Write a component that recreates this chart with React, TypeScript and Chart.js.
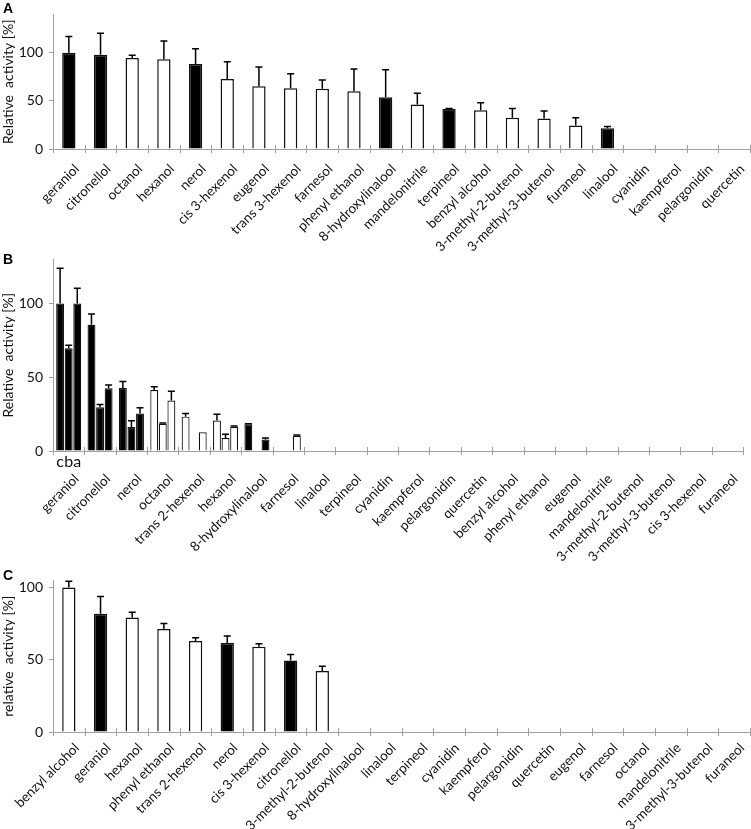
import React, { useEffect, useRef } from 'react';
import { Chart, registerables } from 'chart.js';

Chart.register(...registerables);

// ---------- Panel A ----------
const categoriesA = ['geraniol', 'citronellol', 'octanol', 'hexanol', 'nerol', 'cis 3-hexenol', 'eugenol', 'trans 3-hexenol', 'farnesol', 'phenyl ethanol', '8-hydroxylinalool', 'mandelonitrile', 'terpineol', 'benzyl alcohol', '3-methyl-2-butenol', '3-methyl-3-butenol', 'furaneol', 'linalool', 'cyanidin', 'kaempferol', 'pelargonidin', 'quercetin'];
const valuesA = [100, 98, 94.6, 93.4, 88.3, 72.8, 65.2, 63.3, 62.7, 60.1, 53.8, 46.2, 41.8, 40.2, 32.6, 31.6, 24.4, 21.5, 0, 0, 0, 0];
const errorsA = [17, 22.5, 3, 19, 16, 18, 20, 15, 9, 23, 28.5, 11.7, 0.4, 8, 9.5, 8, 8, 2, 0, 0, 0, 0];
const blackA = ['geraniol', 'citronellol', 'nerol', '8-hydroxylinalool', 'terpineol', 'linalool'];

// ---------- Panel B ----------
const categoriesB = ['geraniol', 'citronellol', 'nerol', 'octanol', 'trans 2-hexenol', 'hexanol', '8-hydroxylinalool', 'farnesol', 'linalool', 'terpineol', 'cyanidin', 'kaempferol', 'pelargonidin', 'quercetin', 'benzyl alcohol', 'phenyl ethanol', 'eugenol', 'mandelonitrile', '3-methyl-2-butenol', '3-methyl-3-butenol', 'cis 3-hexenol', 'furaneol'];
const valuesBc = [100, 85.6, 42.7, 41.4, 23.3, 20.7, 18.1, 0, 0, 0, 0, 0, 0, 0, 0, 0, 0, 0, 0, 0, 0, 0];
const errorsBc = [24, 7.3, 4.5, 2.2, 2.1, 4.3, 0.4, 0, 0, 0, 0, 0, 0, 0, 0, 0, 0, 0, 0, 0, 0, 0];
const valuesBb = [69.8, 29.7, 16.2, 18.5, 0, 8.8, 0, 0, 0, 0, 0, 0, 0, 0, 0, 0, 0, 0, 0, 0, 0, 0];
const errorsBb = [2, 1.8, 4.3, 0.5, 0, 2.6, 0, 0, 0, 0, 0, 0, 0, 0, 0, 0, 0, 0, 0, 0, 0, 0];
const valuesBa = [100, 42.5, 25.4, 34.3, 12.7, 16.4, 7.8, 10.3, 0, 0, 0, 0, 0, 0, 0, 0, 0, 0, 0, 0, 0, 0];
const errorsBa = [10.5, 2.3, 3.9, 6.2, 0, 0.6, 1, 0.6, 0, 0, 0, 0, 0, 0, 0, 0, 0, 0, 0, 0, 0, 0];
const blackB = ['geraniol', 'citronellol', 'nerol', '8-hydroxylinalool'];
const seriesLabelsB = ['c', 'b', 'a'];

// ---------- Panel C ----------
const categoriesC = ['benzyl alcohol', 'geraniol', 'hexanol', 'phenyl ethanol', 'trans 2-hexenol', 'nerol', 'cis 3-hexenol', 'citronellol', '3-methyl-2-butenol', '8-hydroxylinalool', 'linalool', 'terpineol', 'cyanidin', 'kaempferol', 'pelargonidin', 'quercetin', 'eugenol', 'farnesol', 'octanol', 'mandelonitrile', '3-methyl-3-butenol', 'furaneol'];
const valuesC = [100, 81.9, 79.3, 71.4, 63, 61.7, 59, 49.6, 42.3, 0, 0, 0, 0, 0, 0, 0, 0, 0, 0, 0, 0, 0];
const errorsC = [4.4, 11.9, 3.7, 3.7, 2.2, 4.8, 2.2, 4, 3.3, 0, 0, 0, 0, 0, 0, 0, 0, 0, 0, 0, 0, 0];
const blackC = ['geraniol', 'nerol', 'citronellol'];

const yTicks = [0, 50, 100];

const FONT = 'Lato, "Open Sans", sans-serif';
const GRAY = '#a0a0a0';
const TEXT = '#111';

const errorBarPlugin = {
  id: 'errorBars',
  afterDatasetsDraw(chart: any) {
    const ctx = chart.ctx;
    const y = chart.scales.y;
    chart.data.datasets.forEach((ds: any, di: number) => {
      const errs = ds.errorBars;
      if (!errs) return;
      const meta = chart.getDatasetMeta(di);
      meta.data.forEach((bar: any, i: number) => {
        const e = errs[i];
        const v = ds.data[i];
        if (!e) return;
        const top = y.getPixelForValue(v + e);
        const base = y.getPixelForValue(v);
        ctx.save();
        ctx.strokeStyle = '#000';
        ctx.lineWidth = 1.5;
        ctx.beginPath();
        ctx.moveTo(bar.x, base);
        ctx.lineTo(bar.x, top);
        ctx.moveTo(bar.x - 3.5, top);
        ctx.lineTo(bar.x + 3.5, top);
        ctx.stroke();
        ctx.restore();
      });
    });
  },
};

const crossTicksPlugin = {
  id: 'crossTicks',
  afterDraw(chart: any) {
    const ctx = chart.ctx;
    const x = chart.scales.x;
    const y0 = chart.scales.y.getPixelForValue(0);
    const n = chart.data.labels.length;
    ctx.save();
    ctx.strokeStyle = GRAY;
    ctx.lineWidth = 1;
    ctx.beginPath();
    for (let i = 0; i <= n; i++) {
      const px = Math.round(x.getPixelForValue(i - 0.5)) + 0.5;
      ctx.moveTo(px, y0 - 4);
      ctx.lineTo(px, y0 + 4);
    }
    ctx.stroke();
    ctx.restore();
  },
};

const seriesLetterPlugin = {
  id: 'seriesLetters',
  afterDraw(chart: any, _args: any, opts: any) {
    if (!opts || !opts.show) return;
    const ctx = chart.ctx;
    const y0 = chart.scales.y.getPixelForValue(0);
    ctx.save();
    ctx.fillStyle = TEXT;
    ctx.font = '16px ' + FONT;
    ctx.textAlign = 'center';
    ctx.textBaseline = 'middle';
    chart.data.datasets.forEach((ds: any, di: number) => {
      const bar = chart.getDatasetMeta(di).data[0];
      ctx.fillText(ds.label, bar.x, y0 + 11);
    });
    ctx.restore();
  },
};

type PanelProps = {
  top: number;
  height: number;
  padTop: number;
  xHeight: number;
  yMax: number;
  title: string;
  labels: string[];
  datasets: any[];
  catPct: number;
  barPct: number;
  tickPad: number;
  letters?: boolean;
};

function Panel(p: PanelProps) {
  const ref = useRef<HTMLCanvasElement | null>(null);
  useEffect(() => {
    if (!ref.current) return;
    const chart = new Chart(ref.current, {
      type: 'bar',
      data: { labels: p.labels, datasets: p.datasets },
      plugins: [errorBarPlugin, crossTicksPlugin, seriesLetterPlugin],
      options: {
        animation: false,
        responsive: true,
        maintainAspectRatio: false,
        layout: { padding: { top: p.padTop, left: 0, right: 1, bottom: 0 } },
        datasets: { bar: { categoryPercentage: p.catPct, barPercentage: p.barPct } } as any,
        plugins: {
          legend: { display: false },
          tooltip: { enabled: false },
          seriesLetters: { show: !!p.letters },
        } as any,
        scales: {
          x: {
            grid: { display: false },
            border: { display: true, color: GRAY, width: 1 },
            ticks: {
              autoSkip: false,
              maxRotation: 45,
              minRotation: 45,
              padding: p.tickPad,
              labelOffset: 8,
              color: TEXT,
              font: { family: FONT, size: 13.5 },
            },
            afterFit: (s: any) => {
              s.height = p.xHeight;
            },
          },
          y: {
            min: 0,
            max: p.yMax,
            grid: { display: true, drawOnChartArea: false, drawTicks: true, tickLength: 4, color: GRAY },
            border: { display: true, color: GRAY, width: 1 },
            ticks: {
              stepSize: 50,
              includeBounds: false,
              padding: 6,
              color: TEXT,
              font: { family: FONT, size: 14 },
              callback: (v: any) => (yTicks.includes(v) ? String(v) : ''),
            },
            title: {
              display: true,
              text: p.title,
              color: TEXT,
              font: { family: FONT, size: 14 },
              padding: { top: 0, bottom: 0 },
            },
            afterFit: (s: any) => {
              s.width = 53;
            },
          },
        },
      } as any,
    });
    return () => chart.destroy();
  }, []);
  return (
    <div style={{ position: 'absolute', left: 0, top: p.top, width: 751, height: p.height }}>
      <canvas ref={ref} />
    </div>
  );
}

function colorFor(list: string[], cats: string[]) {
  return (ctx: any) => (list.includes(cats[ctx.dataIndex]) ? '#000' : '#fff');
}

const letterStyle: React.CSSProperties = {
  position: 'absolute',
  left: 3,
  fontFamily: '"Liberation Sans", Arial, sans-serif',
  fontWeight: 'bold',
  fontSize: 14,
  lineHeight: '16px',
  color: '#000',
};

export default function App() {
  useEffect(() => {
    document.body.style.margin = '0';
  }, []);

  const dsA = [
    {
      label: 'A',
      data: valuesA,
      errorBars: errorsA,
      backgroundColor: colorFor(blackA, categoriesA),
      borderColor: '#111',
      borderWidth: 1.5,
    },
  ];
  const bVals = [valuesBc, valuesBb, valuesBa];
  const bErrs = [errorsBc, errorsBb, errorsBa];
  const dsB = seriesLabelsB.map((l, i) => ({
    label: l,
    data: bVals[i],
    errorBars: bErrs[i],
    backgroundColor: colorFor(blackB, categoriesB),
    borderColor: '#111',
    borderWidth: 1.2,
  }));
  const dsC = [
    {
      label: 'C',
      data: valuesC,
      errorBars: errorsC,
      backgroundColor: colorFor(blackC, categoriesC),
      borderColor: '#111',
      borderWidth: 1.5,
    },
  ];

  return (
    <div style={{ position: 'absolute', left: 0, top: 0, width: 751, height: 829, overflow: 'hidden', background: '#fff' }}>
      <Panel top={0} height={264} padTop={1} xHeight={115} yMax={140} title="Relative  activity [%]" labels={categoriesA} datasets={dsA} catPct={0.42} barPct={1} tickPad={4} />
      <Panel top={245} height={322} padTop={4} xHeight={116} yMax={130} title="Relative  activity [%]" labels={categoriesB} datasets={dsB} catPct={0.82} barPct={0.92} tickPad={12} letters />
      <Panel top={566} height={263} padTop={7} xHeight={97} yMax={105} title="relative  activity [%]" labels={categoriesC} datasets={dsC} catPct={0.42} barPct={1} tickPad={0} />
      <div style={{ ...letterStyle, top: 0 }}>A</div>
      <div style={{ ...letterStyle, top: 251 }}>B</div>
      <div style={{ ...letterStyle, top: 567 }}>C</div>
    </div>
  );
}
